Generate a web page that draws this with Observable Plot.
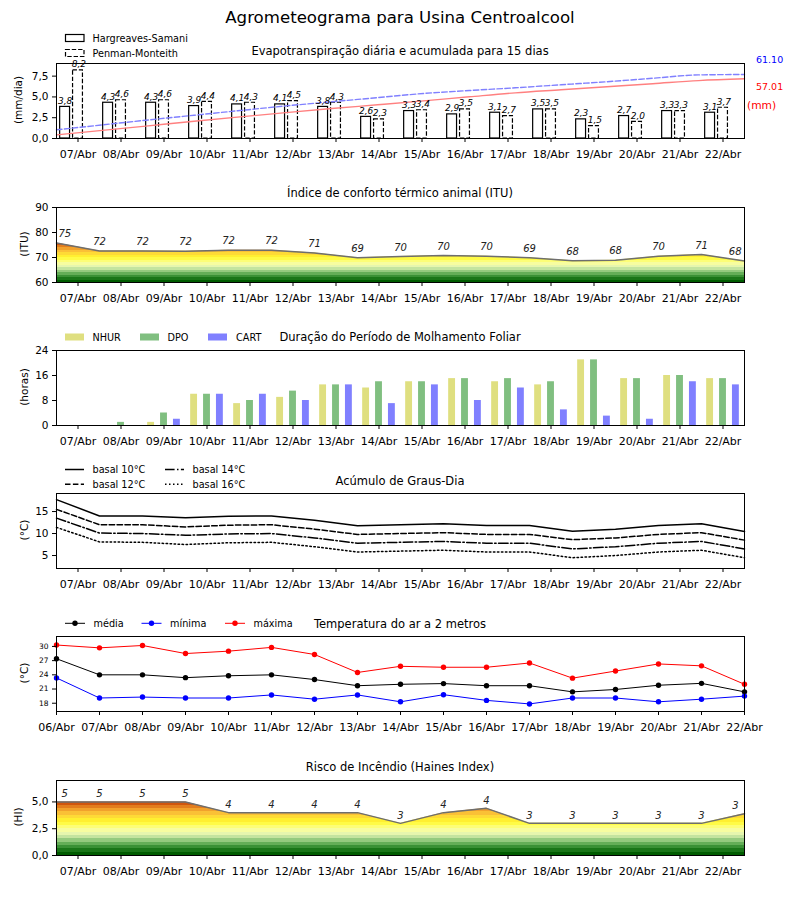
<!DOCTYPE html>
<html><head><meta charset="utf-8">
<script src="https://cdn.jsdelivr.net/npm/d3@7"></script>
<script src="https://cdn.jsdelivr.net/npm/@observablehq/plot@0.6"></script>
<style>
body{margin:0;background:#fff;font-family:"DejaVu Sans",sans-serif;}
#c{position:relative;width:800px;height:900px;overflow:hidden;background:#fff;}
</style></head><body><div id="c"></div>
<script>
// ---------- DATA ----------
const dias = ["07/Abr","08/Abr","09/Abr","10/Abr","11/Abr","12/Abr","13/Abr","14/Abr","15/Abr","16/Abr","17/Abr","18/Abr","19/Abr","20/Abr","21/Abr","22/Abr"];
const diasTemp = ["06/Abr","07/Abr","08/Abr","09/Abr","10/Abr","11/Abr","12/Abr","13/Abr","14/Abr","15/Abr","16/Abr","17/Abr","18/Abr","19/Abr","20/Abr","21/Abr","22/Abr"];

const etHS = [3.8,4.3,4.3,3.9,4.1,4.1,3.8,2.6,3.3,2.9,3.1,3.5,2.3,2.7,3.3,3.1];
const etPM = [8.2,4.6,4.6,4.4,4.3,4.5,4.3,2.3,3.4,3.5,2.7,3.5,1.5,2.0,3.3,3.7];
const acumHS = [3.5,7.8,12.1,16.4,20.6,24.7,28.6,32.2,35.9,39.8,43.6,46.5,49.4,52.3,55.3,57.01];
const acumPM = [8.3,13.0,17.7,22.2,26.7,31.1,35.1,39.0,43.0,45.8,48.4,51.3,54.2,57.5,60.7,61.10];
const acumTotais = [57.01, 61.10]; // Hargreaves, Penman

const itu = [75.8,72.6,72.6,72.5,72.9,72.9,71.8,69.9,70.4,70.8,70.5,69.9,68.7,68.9,70.5,71.2,68.6];

const nhur = [0,0,1,10,7,9,13,12,14,15,14,13,21,15,16,15];
const dpo  = [0,1,4,10,8,11,13,14,14,15,15,14,21,15,16,15];
const cart = [0,0,2,10,10,8,13,7,13,8,12,5,3,2,14,13];

const gd10 = [17.7,14.0,14.0,13.6,13.9,14.0,13.0,11.75,12.0,12.2,11.8,11.8,10.5,11.0,11.8,12.2,10.45];
const gd12 = [15.5,12.0,12.0,11.5,11.9,12.0,11.0,9.8,10.0,10.2,9.8,9.8,8.6,9.0,9.8,10.2,8.5];
const gd14 = [13.5,10.1,10.0,9.6,9.9,10.0,9.0,7.8,8.0,8.2,7.8,7.8,6.5,7.0,7.8,8.2,6.5];
const gd16 = [11.4,8.1,8.0,7.5,7.9,8.0,7.0,5.8,6.0,6.2,5.8,5.8,4.5,5.0,5.8,6.2,4.5];

const tMedia = [27.4,24.0,24.0,23.4,23.8,24.0,23.0,21.7,22.0,22.15,21.7,21.7,20.4,20.9,21.8,22.2,20.4];
const tMin   = [23.35,19.1,19.3,19.1,19.1,19.75,18.85,19.75,18.3,19.8,18.6,17.85,19.1,19.1,18.3,18.85,19.5];
const tMax   = [30.3,29.7,30.2,28.5,29.0,29.8,28.3,24.5,25.8,25.6,25.6,26.5,23.3,24.8,26.3,25.9,22.0];

const haines = [5.0,5.0,5.0,5.0,4.0,4.0,4.0,4.0,3.0,4.0,4.4,3.0,3.0,3.0,3.0,3.0,3.9];

// ---------- LAYOUT HELPERS ----------
const C = document.getElementById("c");
const W = 800, ML = 56, MR = 56, FH = 75, MT = 10, MB = 32;
const comma = f => v => d3.format(f)(v).replace(".", ",");

function base(extra) {
  return Object.assign({
    width: W, height: FH + MT + MB,
    marginLeft: ML, marginRight: MR, marginTop: MT, marginBottom: MB,
    style: {fontFamily: "DejaVu Sans", fontSize: "11px", color: "black", background: "transparent", overflow: "visible"}
  }, extra);
}
function place(node, frameTop) {
  node.style.position = "absolute";
  node.style.left = "0px";
  node.style.top = (frameTop - MT) + "px";
  C.append(node);
}
const axDays = () => Plot.axisX(d3.range(dias.length), {tickFormat: i => dias[i], tickSize: 4, tickPadding: 8, fontSize: 11, label: null});
const axY = (ticks, fmt, size = 10.5) => Plot.axisY(ticks, {tickFormat: fmt, tickSize: 4, tickPadding: 4, fontSize: size, label: null});

const ramp = d3.interpolateRgbBasis(["#005c00","#2f8c2c","#86c474","#e8f8bc","#ffffa0","#ffff1e","#ffd640","#f3a02c","#d0560e"]);
function addGradient(svg, id, y, v0, v1) {
  const ns = "http://www.w3.org/2000/svg";
  const defs = document.createElementNS(ns, "defs");
  const g = document.createElementNS(ns, "linearGradient");
  g.setAttribute("id", id);
  g.setAttribute("gradientUnits", "userSpaceOnUse");
  g.setAttribute("x1", 0); g.setAttribute("x2", 0);
  g.setAttribute("y1", y.apply(v0)); g.setAttribute("y2", y.apply(v1));
  const n = 16;
  for (let k = 0; k < n; k++) {
    const col = ramp(k / (n - 1));
    for (const o of [k / n, (k + 1) / n]) {
      const s = document.createElementNS(ns, "stop");
      s.setAttribute("offset", o); s.setAttribute("stop-color", col);
      g.append(s);
    }
  }
  defs.append(g);
  svg.prepend(defs);
}

// ---------- PANEL 1: Evapotranspiração ----------
const et1Max = 9.02, et2Max = 71.6;
const p1 = Plot.plot(base({
  x: {domain: [-0.5, 15.5]},
  y: {domain: [0, et1Max]},
  marks: [
    Plot.rect(etHS, {x1: (d, i) => i - 0.3 - 0.115, x2: (d, i) => i - 0.3 + 0.115, y1: 0, y2: d => d, fill: "white", stroke: "black", strokeWidth: 1.2}),
    Plot.rect(etPM, {x1: (d, i) => i - 0.115, x2: (d, i) => i + 0.115, y1: 0, y2: d => d, fill: "white", stroke: "black", strokeWidth: 1.2, strokeDasharray: "4.4,1.9"}),
    Plot.line(acumHS, {x: (d, i) => i * 16 / 15 - 0.5, y: d => d * et1Max / et2Max, stroke: "#ff8080", strokeWidth: 1.4, curve: "monotone-x"}),
    Plot.line(acumPM, {x: (d, i) => i * 16 / 15 - 0.5, y: d => d * et1Max / et2Max, stroke: "#8080ff", strokeWidth: 1.4, strokeDasharray: "5.5,2.4", curve: "monotone-x"}),
    Plot.text(etHS, {x: (d, i) => i - 0.3, y: d => d, text: comma(".1f"), dy: -3, lineAnchor: "bottom", fontStyle: "italic", fontSize: 9}),
    Plot.text(etPM, {x: (d, i) => i + 0.02, y: d => d, text: comma(".1f"), dy: -3, lineAnchor: "bottom", fontStyle: "italic", fontSize: 9}),
    Plot.frame({stroke: "black"}),
    axDays(),
    axY([0, 2.5, 5, 7.5], comma(".1f"))
  ]
}));
place(p1, 63);

// ---------- PANEL 2: ITU ----------
const p2 = Plot.plot(base({
  x: {domain: [-0.5, 15.5]},
  y: {domain: [60, 90]},
  marks: [
    Plot.areaY(itu, {x: (d, k) => k - 0.5, y1: 60, y2: d => d, fill: "url(#gItu)"}),
    Plot.line(itu, {x: (d, k) => k - 0.5, y: d => d, stroke: "#6e6e6e", strokeWidth: 1.5}),
    Plot.text(itu, {filter: (d, k) => k > 0 && k < itu.length - 1, x: (d, k) => k - 0.5, y: d => d, text: d => String(Math.floor(d)), dy: -9, fontStyle: "italic", fontSize: 10, fill: "#222"}),
    Plot.text(itu, {filter: (d, k) => k === 0, x: (d, k) => k - 0.5, y: d => d, text: d => String(Math.floor(d)), dy: -9, dx: 2, textAnchor: "start", fontStyle: "italic", fontSize: 10, fill: "#222"}),
    Plot.text(itu, {filter: (d, k) => k === itu.length - 1, x: (d, k) => k - 0.5, y: d => d, text: d => String(Math.floor(d)), dy: -9, dx: -3, textAnchor: "end", fontStyle: "italic", fontSize: 10, fill: "#222"}),
    Plot.frame({stroke: "black"}),
    axDays(),
    axY([60, 70, 80, 90], d3.format("d"))
  ]
}));
addGradient(p2, "gItu", p2.scale("y"), 60, d3.max(itu));
place(p2, 207);

// ---------- PANEL 3: Molhamento foliar ----------
const bw = 0.16;
const bars = (arr, off, fill) => Plot.rect(arr, {x1: (d, i) => i + off - bw / 2, x2: (d, i) => i + off + bw / 2, y1: 0, y2: d => d, fill});
const p3 = Plot.plot(base({
  x: {domain: [-0.5, 15.5]},
  y: {domain: [0, 24]},
  marks: [
    bars(nhur, -0.3, "#dfdf80"),
    bars(dpo, 0, "#80bf80"),
    bars(cart, 0.3, "#8080ff"),
    Plot.frame({stroke: "black"}),
    axDays(),
    axY([0, 8, 16, 24], d3.format("d"))
  ]
}));
place(p3, 350);

// ---------- PANEL 4: Graus-dia ----------
const gdLine = (arr, dash) => Plot.line(arr, {x: (d, k) => k - 0.5, y: d => d, stroke: "black", strokeWidth: 1.5, strokeDasharray: dash});
const p4 = Plot.plot(base({
  x: {domain: [-0.5, 15.5]},
  y: {domain: [2.05, 19.1]},
  marks: [
    gdLine(gd10, null),
    gdLine(gd12, "5.5,2.4"),
    gdLine(gd14, "9.6,2.4,1.5,2.4"),
    gdLine(gd16, "1.5,2.5"),
    Plot.frame({stroke: "black"}),
    axDays(),
    axY([5, 10, 15], d3.format("d"))
  ]
}));
place(p4, 493);

// ---------- PANEL 5: Temperatura ----------
const tSeries = [[tMedia, "black"], [tMin, "#0000ff"], [tMax, "#ff0000"]];
const p5 = Plot.plot(base({
  x: {domain: [0, 16]},
  y: {domain: [16.25, 32.1]},
  marks: [
    ...tSeries.flatMap(([arr, col]) => [
      Plot.line(arr, {x: (d, i) => i, y: d => d, stroke: col, strokeWidth: 1}),
      Plot.dot(arr, {x: (d, i) => i, y: d => d, r: 2.7, fill: col, stroke: "none"})
    ]),
    Plot.frame({stroke: "black"}),
    Plot.axisX(d3.range(diasTemp.length), {tickFormat: i => diasTemp[i], tickSize: 4, tickPadding: 8, fontSize: 11, label: null}),
    axY([18, 21, 24, 27, 30], d3.format("d"), 7.5)
  ]
}));
place(p5, 636);

// ---------- PANEL 6: Haines ----------
const p6 = Plot.plot(base({
  x: {domain: [-0.5, 15.5]},
  y: {domain: [0, 7]},
  marks: [
    Plot.areaY(haines, {x: (d, k) => k - 0.5, y1: 0, y2: d => d, fill: "url(#gHaines)"}),
    Plot.line(haines, {x: (d, k) => k - 0.5, y: d => d, stroke: "#6e6e6e", strokeWidth: 1.5}),
    Plot.text(haines, {filter: (d, k) => k > 0 && k < haines.length - 1, x: (d, k) => k - 0.5, y: d => d, text: d => String(Math.floor(d)), dy: -8, fontStyle: "italic", fontSize: 10, fill: "#222"}),
    Plot.text(haines, {filter: (d, k) => k === 0, x: (d, k) => k - 0.5, y: d => d, text: d => String(Math.floor(d)), dy: -8, dx: 5, textAnchor: "start", fontStyle: "italic", fontSize: 10, fill: "#222"}),
    Plot.text(haines, {filter: (d, k) => k === haines.length - 1, x: (d, k) => k - 0.5, y: d => d, text: d => String(Math.floor(d)), dy: -8, dx: -6, textAnchor: "end", fontStyle: "italic", fontSize: 10, fill: "#222"}),
    Plot.frame({stroke: "black"}),
    axDays(),
    axY([0, 2.5, 5], comma(".1f"))
  ]
}));
addGradient(p6, "gHaines", p6.scale("y"), 0, d3.max(haines));
place(p6, 780);

// ---------- TITLES, LABELS, LEGENDS (overlay) ----------
const ov = d3.create("svg").attr("width", 800).attr("height", 900)
  .style("position", "absolute").style("left", "0px").style("top", "0px")
  .style("font-family", "DejaVu Sans").style("pointer-events", "none");
function T(s, x, y, o = {}) {
  const t = ov.append("text").text(s).attr("x", x).attr("y", y)
    .attr("font-size", o.size || 11).attr("text-anchor", o.anchor || "start")
    .attr("dominant-baseline", "central").attr("fill", o.fill || "black");
  if (o.rotate) t.attr("transform", `rotate(${o.rotate},${x},${y})`);
  return t;
}
T("Agrometeograma para Usina Centroalcool", 400, 17, {size: 16.6, anchor: "middle"});
const titles = [
  ["Evapotranspiração diária e acumulada para 15 dias", 51],
  ["Índice de conforto térmico animal (ITU)", 193],
  ["Duração do Período de Molhamento Foliar", 337],
  ["Acúmulo de Graus-Dia", 481],
  ["Temperatura do ar a 2 metros", 624],
  ["Risco de Incêndio (Haines Index)", 767]
];
titles.forEach(([s, y]) => T(s, 400, y, {size: 11.5, anchor: "middle"}));

const ylabels = [["(mm/dia)", 18, 100], ["(ITU)", 24, 244], ["(horas)", 24, 387], ["(°C)", 24, 530], ["(°C)", 24, 673], ["(HI)", 18, 817]];
ylabels.forEach(([s, x, y]) => T(s, x, y, {size: 10.5, anchor: "middle", rotate: -90}));

// secondary axis annotations for panel 1
T(acumTotais[1].toFixed(2), 756, 59, {size: 9.5, fill: "#0000ff"});
T(acumTotais[0].toFixed(2), 756, 86, {size: 9.5, fill: "#ff0000"});
T("(mm)", 747, 105, {size: 10.7, fill: "#ff0000"});

const LS = 9.7;
// legend panel 1
ov.append("rect").attr("x", 65.5).attr("y", 34.5).attr("width", 18.5).attr("height", 7).attr("fill", "white").attr("stroke", "black").attr("stroke-width", 1.2);
ov.append("rect").attr("x", 65.5).attr("y", 49.5).attr("width", 18.5).attr("height", 7).attr("fill", "white").attr("stroke", "black").attr("stroke-width", 1.2).attr("stroke-dasharray", "4.4,1.9");
T("Hargreaves-Samani", 92.5, 38.5, {size: LS});
T("Penman-Monteith", 92.5, 53.3, {size: LS});

// legend panel 3
[["NHUR", "#dfdf80", 65, 92.5], ["DPO", "#80bf80", 140, 167.5], ["CART", "#8080ff", 208, 236]].forEach(([s, c, x, tx]) => {
  ov.append("rect").attr("x", x).attr("y", 333.5).attr("width", 19).attr("height", 7).attr("fill", c);
  T(s, tx, 337.3, {size: LS});
});

// legend panel 4
[["basal 10°C", null, 65, 469.5], ["basal 12°C", "5.5,2.4", 65, 484.3], ["basal 14°C", "9.6,2.4,1.5,2.4", 165, 469.5], ["basal 16°C", "1.5,2.5", 165, 484.3]].forEach(([s, dash, x, y]) => {
  const l = ov.append("line").attr("x1", x).attr("x2", x + 19).attr("y1", y).attr("y2", y).attr("stroke", "black").attr("stroke-width", 1.5);
  if (dash) l.attr("stroke-dasharray", dash);
  T(s, x + 27.5, y, {size: LS});
});

// legend panel 5
[["média", "black", 65], ["mínima", "#0000ff", 141.5], ["máxima", "#ff0000", 225]].forEach(([s, c, x]) => {
  ov.append("line").attr("x1", x).attr("x2", x + 20).attr("y1", 623.3).attr("y2", 623.3).attr("stroke", c).attr("stroke-width", 1);
  ov.append("circle").attr("cx", x + 10).attr("cy", 623.3).attr("r", 2.7).attr("fill", c);
  T(s, x + 28.5, 623.3, {size: LS});
});

C.append(ov.node());
</script>
</body></html>
